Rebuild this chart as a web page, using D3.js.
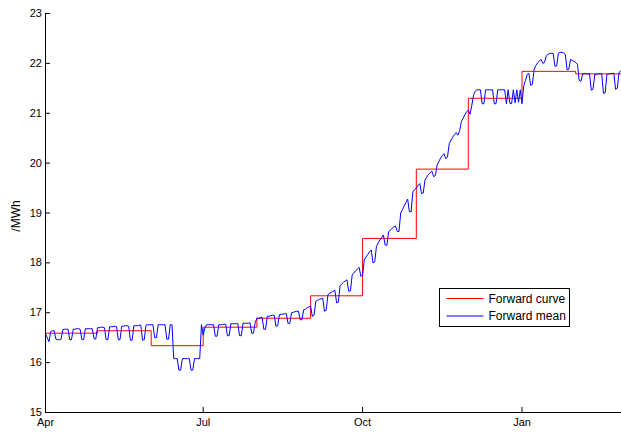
<!DOCTYPE html>
<html>
<head>
<meta charset="utf-8">
<script src="https://cdn.jsdelivr.net/npm/d3@7"></script>
<style>
  body { margin: 0; background: #fff; }
  svg { display: block; }
  text { font-family: "Liberation Sans", Arial, Helvetica, sans-serif; fill: #000; }
</style>
</head>
<body>
<svg id="chart" width="621" height="434"></svg>
<script>
// Delivery period shown on the time axis
const startDate = "2012-04-01";
const endDate = "2013-02-28";

// Monthly forward prices (step curve), one per delivery month
const monthStarts = ["2012-04-01", "2012-05-01", "2012-06-01", "2012-07-01", "2012-08-01",
  "2012-09-01", "2012-10-01", "2012-11-01", "2012-12-01", "2013-01-01", "2013-02-01"];
const forwardCurve = [16.59, 16.64, 16.34, 16.71, 16.89, 17.34, 18.49, 19.88, 21.30, 21.84, 21.79];

// Daily forward mean from startDate onward, one row per week
const forwardMean = [
  16.58, 16.50, 16.42, 16.62, 16.64, 16.64, 16.47,
  16.46, 16.46, 16.47, 16.66, 16.67, 16.67, 16.67,
  16.46, 16.46, 16.67, 16.67, 16.68, 16.68, 16.67,
  16.46, 16.46, 16.68, 16.68, 16.68, 16.68, 16.68,
  16.48, 16.47, 16.70, 16.70, 16.71, 16.71, 16.70,
  16.46, 16.46, 16.72, 16.72, 16.72, 16.73, 16.72,
  16.46, 16.46, 16.73, 16.73, 16.74, 16.74, 16.73,
  16.45, 16.45, 16.74, 16.74, 16.74, 16.75, 16.75,
  16.45, 16.46, 16.75, 16.76, 16.76, 16.76, 16.76,
  16.50, 16.50, 16.76, 16.76, 16.76, 16.76, 16.76,
  16.47, 16.47, 16.76, 16.76, 16.08, 16.08, 16.08,
  15.85, 15.85, 16.08, 16.08, 16.08, 16.08, 16.08,
  15.85, 15.85, 16.08, 16.08, 16.08, 16.08, 16.76,
  16.55, 16.70, 16.76, 16.76, 16.76, 16.76, 16.76,
  16.53, 16.53, 16.76, 16.76, 16.76, 16.77, 16.77,
  16.54, 16.54, 16.78, 16.78, 16.78, 16.78, 16.78,
  16.54, 16.54, 16.79, 16.79, 16.79, 16.79, 16.80,
  16.59, 16.59, 16.80, 16.89, 16.89, 16.90, 16.91,
  16.67, 16.67, 16.93, 16.93, 16.94, 16.95, 16.95,
  16.73, 16.74, 16.96, 16.97, 16.97, 16.98, 16.98,
  16.78, 16.79, 17.00, 17.01, 17.02, 17.03, 17.03,
  16.86, 16.86, 17.06, 17.07, 17.10, 17.12, 17.13,
  16.93, 16.95, 17.23, 17.25, 17.27, 17.28, 17.29,
  17.03, 17.05, 17.36, 17.39, 17.41, 17.43, 17.45,
  17.20, 17.21, 17.54, 17.58, 17.61, 17.64, 17.66,
  17.43, 17.44, 17.76, 17.80, 17.84, 17.88, 17.91,
  17.73, 17.75, 18.06, 18.12, 18.17, 18.22, 18.26,
  18.00, 18.02, 18.33, 18.40, 18.46, 18.51, 18.56,
  18.36, 18.35, 18.62, 18.66, 18.69, 18.72, 18.74,
  18.63, 18.63, 19.00, 19.07, 19.14, 19.21, 19.28,
  19.03, 19.02, 19.42, 19.47, 19.50, 19.55, 19.59,
  19.39, 19.40, 19.66, 19.72, 19.77, 19.81, 19.84,
  19.73, 19.75, 19.96, 20.03, 20.10, 20.15, 20.19,
  20.09, 20.12, 20.39, 20.46, 20.52, 20.57, 20.61,
  20.56, 20.65, 20.83, 20.90, 20.97, 21.03, 21.06,
  20.98, 21.15, 21.36, 21.44, 21.47, 21.47, 21.47,
  21.19, 21.19, 21.47, 21.47, 21.47, 21.47, 21.47,
  21.19, 21.19, 21.47, 21.47, 21.47, 21.47, 21.47,
  21.19, 21.47, 21.20, 21.19, 21.47, 21.21, 21.47,
  21.22, 21.47, 21.19, 21.55, 21.66, 21.78, 21.80,
  21.56, 21.58, 21.88, 21.96, 22.01, 22.05, 22.08,
  22.00, 22.02, 22.15, 22.18, 22.20, 22.20, 22.20,
  21.94, 21.95, 22.20, 22.22, 22.22, 22.21, 22.18,
  21.87, 21.88, 22.08, 22.06, 22.04, 22.02, 21.98,
  21.66, 21.64, 21.79, 21.80, 21.79, 21.79, 21.79,
  21.46, 21.48, 21.78, 21.78, 21.79, 21.79, 21.79,
  21.40, 21.41, 21.78, 21.79, 21.79, 21.80, 21.80,
  21.48, 21.50, 21.82, 21.85
];

// Axis ticks and labels
const yTicks = [15, 16, 17, 18, 19, 20, 21, 22, 23];
const xTickDates = ["2012-04-01", "2012-07-01", "2012-10-01", "2013-01-01"];
const xTickLabels = ["Apr", "Jul", "Oct", "Jan"];
const yLabel = "/MWh";
const seriesNames = ["Forward curve", "Forward mean"];
const seriesColors = ["#ff0000", "#0000ff"];

const parse = d3.utcParse("%Y-%m-%d");
const svg = d3.select("#chart");

const x = d3.scaleUtc()
  .domain([parse(startDate), parse(endDate)])
  .range([45, 622]);
const y = d3.scaleLinear()
  .domain([15, 23])
  .range([412, 13]);

// Step curve: each month's price holds until the next month starts
const curvePoints = monthStarts.map((m, i) => ({ date: parse(m), value: forwardCurve[i] }));
curvePoints.push({ date: parse(endDate), value: forwardCurve[forwardCurve.length - 1] });

const meanPoints = forwardMean.map((v, i) => ({
  date: d3.utcDay.offset(parse(startDate), i),
  value: v
}));

const stepLine = d3.line()
  .x(d => x(d.date) + 0.5)
  .y(d => y(d.value) + 0.5)
  .curve(d3.curveStepAfter);
const dailyLine = d3.line()
  .x(d => x(d.date) + 0.5)
  .y(d => y(d.value) + 0.5);

svg.append("path")
  .datum(curvePoints)
  .attr("fill", "none")
  .attr("stroke", seriesColors[0])
  .attr("stroke-width", 1)
  .attr("d", stepLine);

svg.append("path")
  .datum(meanPoints)
  .attr("fill", "none")
  .attr("stroke", seriesColors[1])
  .attr("stroke-width", 1)
  .attr("stroke-linejoin", "round")
  .attr("d", dailyLine);

// Axes with inward ticks
const xAxis = d3.axisBottom(x)
  .tickValues(xTickDates.map(parse))
  .tickFormat((d, i) => xTickLabels[i])
  .tickSizeInner(-5)
  .tickSizeOuter(0)
  .tickPadding(6);
const yAxis = d3.axisLeft(y)
  .tickValues(yTicks)
  .tickFormat(d3.format("d"))
  .tickSizeInner(-5)
  .tickSizeOuter(0)
  .tickPadding(3);

const gx = svg.append("g").attr("transform", "translate(0,412)").call(xAxis);
const gy = svg.append("g").attr("transform", "translate(45,0)").call(yAxis);
[gx, gy].forEach(g => {
  g.select(".domain").attr("stroke", "#000");
  g.selectAll(".tick line").attr("stroke", "#000");
  g.selectAll(".tick text")
    .attr("font-size", 11)
    .attr("font-family", "'Liberation Sans', Arial, sans-serif")
    .attr("fill", "#000");
});

svg.append("text")
  .attr("transform", "translate(20,216) rotate(-90)")
  .attr("text-anchor", "middle")
  .attr("font-size", 12)
  .text(yLabel);

// Legend
const legend = svg.append("g").attr("transform", "translate(439.5,288.5)");
legend.append("rect")
  .attr("width", 130)
  .attr("height", 38)
  .attr("fill", "#fff")
  .attr("stroke", "#000");
seriesNames.forEach((name, i) => {
  const ly = 10 + i * 17.5;
  legend.append("line")
    .attr("x1", 7).attr("x2", 44)
    .attr("y1", ly).attr("y2", ly)
    .attr("stroke", seriesColors[i])
    .attr("stroke-width", 1);
  legend.append("text")
    .attr("x", 49)
    .attr("y", ly + 4)
    .attr("font-size", 12)
    .text(name);
});
</script>
</body>
</html>
